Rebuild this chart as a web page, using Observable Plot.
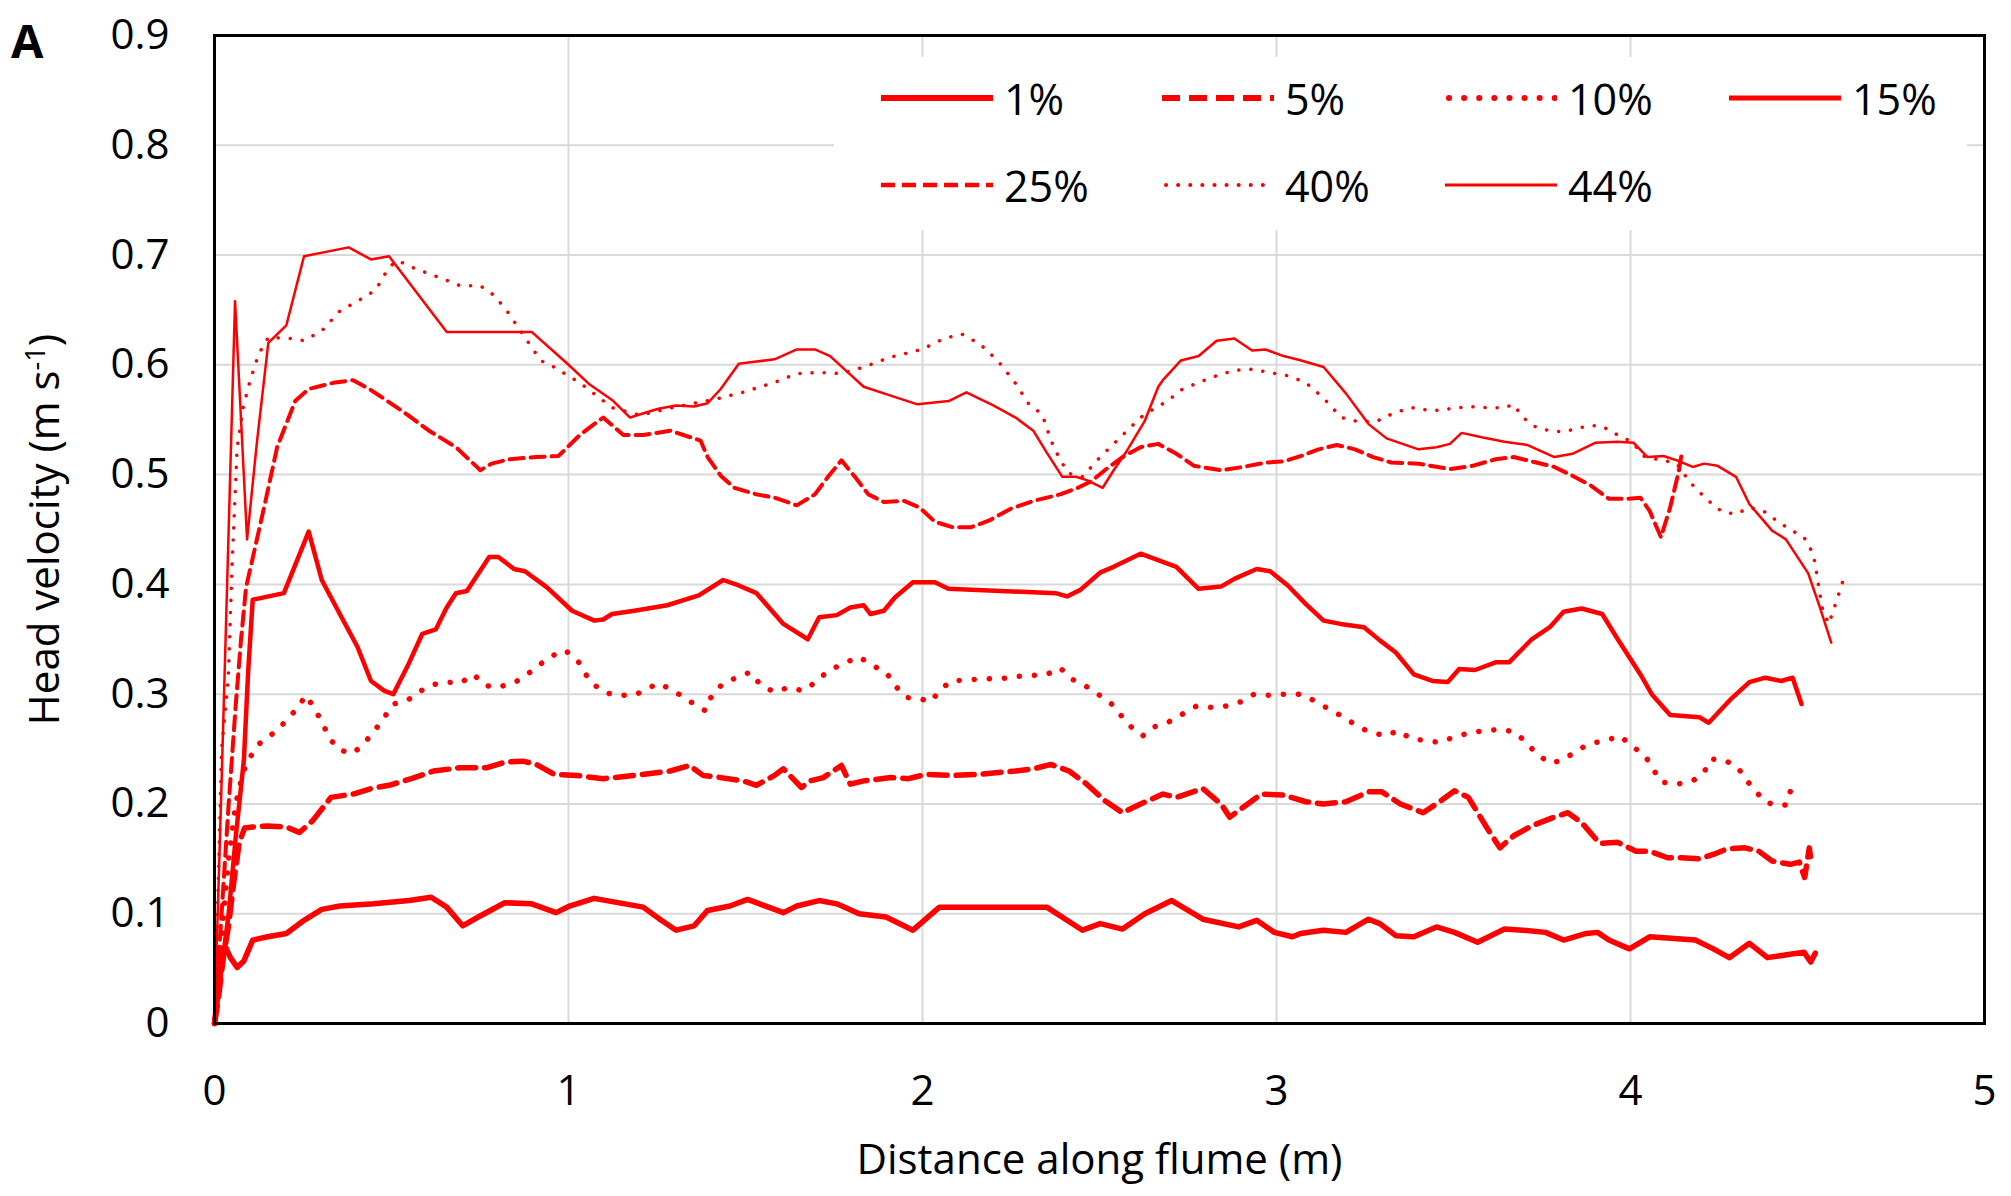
<!DOCTYPE html>
<html><head><meta charset="utf-8">
<script src="https://cdn.jsdelivr.net/npm/d3@7"></script>
<script src="https://cdn.jsdelivr.net/npm/@observablehq/plot@0.6"></script>
<style>
body{margin:0;background:#fff;}
#wrap{position:relative;width:2011px;height:1196px;font-family:"Open Sans",sans-serif;color:#000;overflow:hidden;}
#panel{position:absolute;left:11px;top:17px;font-weight:bold;font-size:47px;line-height:1;}
#legend{position:absolute;left:834px;top:57px;width:1133px;height:173px;background:#fff;}
.item{position:absolute;display:flex;align-items:center;height:50px;font-size:43px;white-space:nowrap;}
.item svg{display:block;margin-right:11px;}
</style></head><body>
<div id="wrap"><div id="chart"></div><div id="panel">A</div><div id="legend"></div></div>
<script>
const xTicks = [0, 1, 2, 3, 4, 5];
const yTicks = [0, 0.1, 0.2, 0.3, 0.4, 0.5, 0.6, 0.7, 0.8, 0.9];
const seriesLabels = ["1%", "5%", "10%", "15%", "25%", "40%", "44%"];

const s01 = [[0,0],[0.01,0.03],[0.02,0.06],[0.032,0.069],[0.045,0.06],[0.064,0.051],[0.083,0.057],[0.108,0.076],[0.15,0.079],[0.203,0.082],[0.253,0.094],[0.303,0.104],[0.354,0.107],[0.45,0.109],[0.55,0.112],[0.612,0.115],[0.656,0.106],[0.701,0.089],[0.745,0.097],[0.82,0.110],[0.896,0.109],[0.965,0.101],[1.003,0.107],[1.072,0.114],[1.211,0.106],[1.262,0.094],[1.304,0.085],[1.355,0.089],[1.393,0.103],[1.456,0.107],[1.506,0.113],[1.607,0.101],[1.645,0.107],[1.708,0.112],[1.758,0.109],[1.821,0.100],[1.897,0.097],[1.973,0.085],[2.048,0.106],[2.351,0.106],[2.452,0.085],[2.502,0.091],[2.565,0.086],[2.628,0.100],[2.704,0.112],[2.792,0.095],[2.893,0.088],[2.944,0.094],[2.994,0.083],[3.045,0.079],[3.068,0.082],[3.132,0.085],[3.196,0.083],[3.26,0.095],[3.292,0.091],[3.337,0.080],[3.388,0.079],[3.452,0.088],[3.503,0.083],[3.568,0.074],[3.644,0.086],[3.696,0.085],[3.76,0.083],[3.811,0.076],[3.875,0.082],[3.907,0.083],[3.939,0.076],[3.997,0.068],[4.054,0.079],[4.183,0.076],[4.234,0.068],[4.279,0.060],[4.336,0.073],[4.387,0.060],[4.451,0.063],[4.49,0.065],[4.509,0.056],[4.522,0.064]];

const s05 = [[0,0],[0.01,0.02],[0.025,0.06],[0.04,0.09],[0.055,0.13],[0.07,0.165],[0.085,0.178],[0.108,0.179],[0.15,0.180],[0.203,0.179],[0.24,0.174],[0.278,0.185],[0.329,0.206],[0.392,0.209],[0.442,0.214],[0.493,0.217],[0.556,0.223],[0.619,0.230],[0.694,0.233],[0.77,0.233],[0.82,0.238],[0.871,0.239],[0.909,0.236],[0.959,0.227],[1.022,0.226],[1.098,0.223],[1.186,0.226],[1.287,0.230],[1.342,0.235],[1.38,0.226],[1.43,0.224],[1.493,0.221],[1.531,0.217],[1.582,0.226],[1.607,0.232],[1.658,0.215],[1.683,0.221],[1.72,0.224],[1.771,0.235],[1.796,0.218],[1.834,0.221],[1.91,0.224],[1.96,0.223],[2.01,0.227],[2.086,0.226],[2.162,0.227],[2.262,0.230],[2.313,0.232],[2.363,0.236],[2.414,0.230],[2.464,0.218],[2.515,0.203],[2.565,0.192],[2.616,0.200],[2.679,0.209],[2.717,0.206],[2.792,0.214],[2.843,0.200],[2.868,0.188],[2.906,0.197],[2.957,0.209],[3.02,0.208],[3.083,0.202],[3.132,0.200],[3.196,0.202],[3.26,0.211],[3.298,0.211],[3.35,0.200],[3.414,0.192],[3.452,0.200],[3.503,0.212],[3.542,0.206],[3.593,0.179],[3.631,0.160],[3.67,0.171],[3.721,0.180],[3.785,0.188],[3.823,0.192],[3.862,0.183],[3.913,0.164],[3.964,0.165],[4.016,0.157],[4.054,0.157],[4.105,0.151],[4.144,0.151],[4.195,0.150],[4.234,0.154],[4.272,0.159],[4.323,0.160],[4.362,0.157],[4.4,0.148],[4.451,0.145],[4.477,0.147],[4.492,0.133],[4.505,0.160],[4.509,0.151]];

const s10 = [[0,0],[0.01,0.04],[0.02,0.08],[0.04,0.15],[0.06,0.2],[0.08,0.228],[0.095,0.24],[0.127,0.255],[0.177,0.267],[0.228,0.285],[0.259,0.299],[0.291,0.282],[0.329,0.258],[0.354,0.249],[0.392,0.246],[0.43,0.258],[0.467,0.273],[0.505,0.291],[0.543,0.294],[0.606,0.308],[0.656,0.311],[0.694,0.310],[0.732,0.318],[0.764,0.308],[0.795,0.306],[0.846,0.310],[0.896,0.321],[0.947,0.334],[0.991,0.340],[1.029,0.329],[1.06,0.312],[1.098,0.302],[1.135,0.299],[1.186,0.299],[1.254,0.310],[1.279,0.306],[1.317,0.299],[1.355,0.291],[1.386,0.285],[1.405,0.299],[1.437,0.310],[1.475,0.315],[1.513,0.320],[1.544,0.308],[1.582,0.302],[1.62,0.306],[1.664,0.303],[1.702,0.312],[1.733,0.321],[1.777,0.328],[1.821,0.334],[1.859,0.326],[1.897,0.320],[1.922,0.308],[1.954,0.297],[1.992,0.296],[2.023,0.293],[2.048,0.303],[2.08,0.312],[2.124,0.313],[2.175,0.314],[2.219,0.314],[2.263,0.316],[2.307,0.317],[2.351,0.318],[2.389,0.324],[2.42,0.314],[2.458,0.308],[2.496,0.300],[2.534,0.291],[2.565,0.279],[2.59,0.270],[2.622,0.262],[2.653,0.270],[2.697,0.275],[2.735,0.282],[2.773,0.289],[2.817,0.288],[2.855,0.289],[2.899,0.293],[2.937,0.300],[2.981,0.299],[3.025,0.300],[3.069,0.300],[3.107,0.294],[3.145,0.287],[3.19,0.279],[3.228,0.271],[3.266,0.265],[3.311,0.262],[3.343,0.267],[3.382,0.259],[3.42,0.258],[3.459,0.256],[3.503,0.261],[3.548,0.265],[3.593,0.267],[3.638,0.268],[3.676,0.265],[3.708,0.255],[3.734,0.246],[3.772,0.237],[3.811,0.240],[3.849,0.249],[3.888,0.255],[3.933,0.258],[3.971,0.262],[4.003,0.253],[4.041,0.244],[4.086,0.220],[4.131,0.218],[4.176,0.221],[4.208,0.229],[4.227,0.241],[4.266,0.240],[4.304,0.233],[4.323,0.223],[4.349,0.214],[4.375,0.203],[4.407,0.199],[4.439,0.199],[4.452,0.212]];

const s15 = [[0,0],[0.02,0.05],[0.04,0.1],[0.06,0.17],[0.083,0.24],[0.095,0.32],[0.108,0.386],[0.196,0.392],[0.266,0.448],[0.303,0.404],[0.354,0.373],[0.404,0.343],[0.442,0.312],[0.48,0.303],[0.505,0.300],[0.549,0.328],[0.587,0.355],[0.625,0.359],[0.656,0.379],[0.682,0.392],[0.713,0.394],[0.776,0.425],[0.802,0.425],[0.846,0.414],[0.877,0.412],[0.94,0.397],[1.01,0.376],[1.073,0.367],[1.098,0.368],[1.123,0.373],[1.186,0.376],[1.279,0.381],[1.368,0.390],[1.437,0.404],[1.481,0.399],[1.531,0.392],[1.607,0.364],[1.676,0.350],[1.708,0.370],[1.758,0.372],[1.796,0.379],[1.834,0.381],[1.853,0.373],[1.891,0.376],[1.922,0.388],[1.973,0.402],[2.035,0.402],[2.073,0.396],[2.376,0.392],[2.408,0.389],[2.446,0.395],[2.503,0.411],[2.54,0.416],[2.616,0.428],[2.717,0.416],[2.78,0.396],[2.843,0.398],[2.881,0.405],[2.944,0.414],[2.982,0.412],[3.032,0.399],[3.083,0.382],[3.133,0.367],[3.181,0.364],[3.247,0.361],[3.292,0.349],[3.337,0.338],[3.388,0.318],[3.44,0.312],[3.484,0.311],[3.516,0.323],[3.561,0.322],[3.619,0.329],[3.657,0.329],[3.721,0.350],[3.772,0.361],[3.811,0.375],[3.862,0.378],[3.92,0.373],[3.964,0.350],[4.028,0.318],[4.06,0.300],[4.112,0.281],[4.195,0.279],[4.221,0.274],[4.285,0.296],[4.336,0.311],[4.381,0.315],[4.426,0.312],[4.458,0.315],[4.483,0.291]];

const s25 = [[0,0],[0.02,0.1],[0.04,0.2],[0.06,0.29],[0.075,0.35],[0.089,0.397],[0.14,0.470],[0.177,0.525],[0.228,0.567],[0.266,0.578],[0.341,0.584],[0.392,0.586],[0.442,0.577],[0.53,0.558],[0.606,0.540],[0.682,0.525],[0.751,0.504],[0.783,0.510],[0.833,0.514],[0.909,0.516],[0.972,0.517],[1.035,0.537],[1.098,0.552],[1.155,0.536],[1.211,0.536],[1.287,0.540],[1.373,0.531],[1.393,0.516],[1.43,0.499],[1.468,0.488],[1.531,0.482],[1.582,0.479],[1.645,0.472],[1.696,0.482],[1.733,0.498],[1.771,0.513],[1.809,0.498],[1.847,0.482],[1.891,0.475],[1.948,0.476],[1.992,0.470],[2.035,0.457],[2.086,0.452],[2.136,0.452],[2.187,0.458],[2.25,0.469],[2.313,0.476],[2.389,0.482],[2.439,0.488],[2.477,0.494],[2.515,0.504],[2.565,0.516],[2.616,0.525],[2.666,0.528],[2.717,0.519],[2.767,0.508],[2.843,0.504],[2.906,0.507],[2.969,0.511],[3.02,0.512],[3.07,0.517],[3.119,0.523],[3.17,0.527],[3.222,0.523],[3.273,0.516],[3.324,0.511],[3.401,0.510],[3.49,0.505],[3.554,0.508],[3.619,0.514],[3.67,0.516],[3.734,0.511],[3.785,0.507],[3.836,0.499],[3.888,0.490],[3.939,0.478],[3.99,0.478],[4.028,0.479],[4.054,0.467],[4.086,0.443],[4.112,0.470],[4.137,0.504],[4.146,0.522]];

const s40 = [[0,0],[0.01,0.12],[0.02,0.25],[0.039,0.315],[0.05,0.42],[0.064,0.525],[0.08,0.56],[0.1,0.585],[0.125,0.61],[0.152,0.625],[0.215,0.624],[0.253,0.622],[0.303,0.631],[0.354,0.649],[0.404,0.658],[0.455,0.668],[0.493,0.689],[0.518,0.695],[0.556,0.689],[0.606,0.683],[0.656,0.677],[0.694,0.672],[0.751,0.672],[0.783,0.665],[0.82,0.652],[0.858,0.634],[0.896,0.616],[0.921,0.604],[0.959,0.598],[1.035,0.583],[1.123,0.561],[1.203,0.554],[1.279,0.560],[1.418,0.569],[1.493,0.575],[1.582,0.584],[1.645,0.592],[1.708,0.593],[1.771,0.592],[1.834,0.598],[1.91,0.607],[1.998,0.614],[2.061,0.624],[2.111,0.628],[2.162,0.619],[2.212,0.604],[2.263,0.583],[2.301,0.564],[2.338,0.555],[2.363,0.531],[2.389,0.513],[2.414,0.501],[2.452,0.498],[2.477,0.507],[2.502,0.516],[2.54,0.528],[2.578,0.540],[2.616,0.552],[2.654,0.560],[2.692,0.567],[2.73,0.577],[2.78,0.584],[2.83,0.590],[2.881,0.595],[2.931,0.596],[2.981,0.593],[3.032,0.590],[3.082,0.584],[3.132,0.570],[3.183,0.552],[3.234,0.548],[3.286,0.549],[3.337,0.557],[3.388,0.561],[3.439,0.558],[3.49,0.560],[3.542,0.562],[3.593,0.561],[3.644,0.561],[3.67,0.564],[3.696,0.552],[3.734,0.543],[3.772,0.540],[3.811,0.539],[3.862,0.543],[3.907,0.545],[3.939,0.541],[3.964,0.536],[4.003,0.530],[4.041,0.516],[4.093,0.513],[4.131,0.510],[4.157,0.498],[4.182,0.488],[4.221,0.476],[4.259,0.466],[4.298,0.464],[4.336,0.470],[4.375,0.467],[4.413,0.458],[4.451,0.450],[4.49,0.443],[4.516,0.428],[4.528,0.406],[4.541,0.379],[4.56,0.364],[4.579,0.382],[4.599,0.402]];

const s44 = [[0,0],[0.02,0.22],[0.04,0.45],[0.058,0.658],[0.075,0.55],[0.092,0.441],[0.12,0.53],[0.152,0.62],[0.203,0.636],[0.253,0.699],[0.379,0.707],[0.442,0.696],[0.493,0.699],[0.656,0.630],[0.896,0.630],[0.997,0.601],[1.06,0.582],[1.123,0.568],[1.174,0.552],[1.203,0.555],[1.254,0.560],[1.304,0.563],[1.355,0.562],[1.393,0.565],[1.43,0.578],[1.481,0.601],[1.531,0.603],[1.582,0.605],[1.645,0.614],[1.696,0.614],[1.739,0.608],[1.783,0.595],[1.834,0.580],[1.91,0.572],[1.986,0.564],[2.074,0.567],[2.124,0.575],[2.2,0.563],[2.263,0.552],[2.313,0.540],[2.351,0.520],[2.395,0.498],[2.433,0.498],[2.464,0.495],[2.509,0.488],[2.54,0.504],[2.578,0.522],[2.628,0.549],[2.666,0.580],[2.679,0.586],[2.73,0.604],[2.78,0.608],[2.831,0.622],[2.881,0.624],[2.931,0.613],[2.969,0.614],[3.02,0.608],[3.07,0.604],[3.133,0.598],[3.196,0.574],[3.26,0.546],[3.311,0.533],[3.401,0.523],[3.452,0.525],[3.49,0.528],[3.523,0.538],[3.58,0.534],[3.644,0.530],[3.708,0.527],[3.785,0.516],[3.836,0.519],[3.9,0.529],[3.964,0.530],[4.009,0.529],[4.048,0.516],[4.093,0.517],[4.131,0.513],[4.176,0.507],[4.208,0.510],[4.246,0.508],[4.298,0.498],[4.336,0.473],[4.4,0.449],[4.439,0.441],[4.502,0.410],[4.535,0.379],[4.567,0.347]];

const seriesData = [s01, s05, s10, s15, s25, s40, s44];

// drawing styles (not data)
const RED = "#ff0000";
const lineStyles = [
  {strokeWidth: 5.5},
  {strokeWidth: 5.5, strokeDasharray: "18 9"},
  {strokeWidth: 5.5, strokeDasharray: "0.1 15", strokeLinecap: "round"},
  {strokeWidth: 4.5},
  {strokeWidth: 4, strokeDasharray: "14 7"},
  {strokeWidth: 3.5, strokeDasharray: "0.1 12", strokeLinecap: "round"},
  {strokeWidth: 2.5}
];

const lineMarks = seriesData.map((s, i) => Plot.line(s, {
  x: d => d[0], y: d => d[1], stroke: RED, strokeLinejoin: "round", ...lineStyles[i]
}));

const chart = Plot.plot({
  width: 2011, height: 1196,
  marginLeft: 214, marginRight: 27, marginTop: 35, marginBottom: 173,
  style: {fontFamily: '"Open Sans", sans-serif', fontSize: "42px", color: "#000", background: "#fff", overflow: "visible"},
  x: {domain: [0, 5], ticks: xTicks, tickSize: 0, tickPadding: 52, tickFormat: d3.format("d"),
      label: "Distance along flume (m)", labelAnchor: "center", labelOffset: 150, labelArrow: "none"},
  y: {domain: [0, 0.9], ticks: yTicks, tickSize: 0, tickPadding: 45, tickFormat: d3.format("~g"),
      label: "Head velocity (m s-1)", labelAnchor: "center", labelOffset: 185, labelArrow: "none"},
  marks: [
    Plot.ruleX(xTicks, {x: d => d, stroke: "#d9d9d9", strokeWidth: 2}),
    Plot.ruleY(yTicks, {y: d => d, stroke: "#d9d9d9", strokeWidth: 2}),
    ...lineMarks,
    Plot.frame({stroke: "#000", strokeWidth: 3})
  ]
});
document.getElementById("chart").appendChild(chart);

// clean axis labels: remove any arrows, add superscript in y label
const NS = "http://www.w3.org/2000/svg";
chart.querySelectorAll("text").forEach(t => {
  if (t.textContent.includes("Distance along flume")) {
    t.textContent = "Distance along flume (m)";
  }
  if (t.textContent.includes("Head velocity")) {
    t.textContent = "";
    const a = document.createElementNS(NS, "tspan"); a.textContent = "Head velocity (m s";
    const b = document.createElementNS(NS, "tspan"); b.textContent = "-1"; b.setAttribute("dy", "-14"); b.setAttribute("font-size", "27");
    const c = document.createElementNS(NS, "tspan"); c.textContent = ")"; c.setAttribute("dy", "14");
    t.appendChild(a); t.appendChild(b); t.appendChild(c);
  }
});

// legend (inside plot area, white box)
const legend = document.getElementById("legend");
const colX = [47, 328, 611, 895];
const rowY = [16, 103];
seriesLabels.forEach((lab, i) => {
  const col = i < 4 ? i : i - 4;
  const row = i < 4 ? 0 : 1;
  const item = document.createElement("div");
  item.className = "item";
  item.style.left = colX[col] + "px";
  item.style.top = rowY[row] + "px";
  const st = lineStyles[i];
  const dash = st.strokeDasharray ? `stroke-dasharray="${st.strokeDasharray}"` : "";
  const cap = st.strokeLinecap ? `stroke-linecap="${st.strokeLinecap}"` : "";
  const off = st.strokeLinecap === "round" ? 4 : 0;
  item.innerHTML = `<svg width="112" height="20"><line x1="${off}" y1="10" x2="112" y2="10" stroke="${RED}" stroke-width="${st.strokeWidth + 0.5}" ${dash} ${cap}/></svg><span>${lab}</span>`;
  legend.appendChild(item);
});
</script>
</body></html>
